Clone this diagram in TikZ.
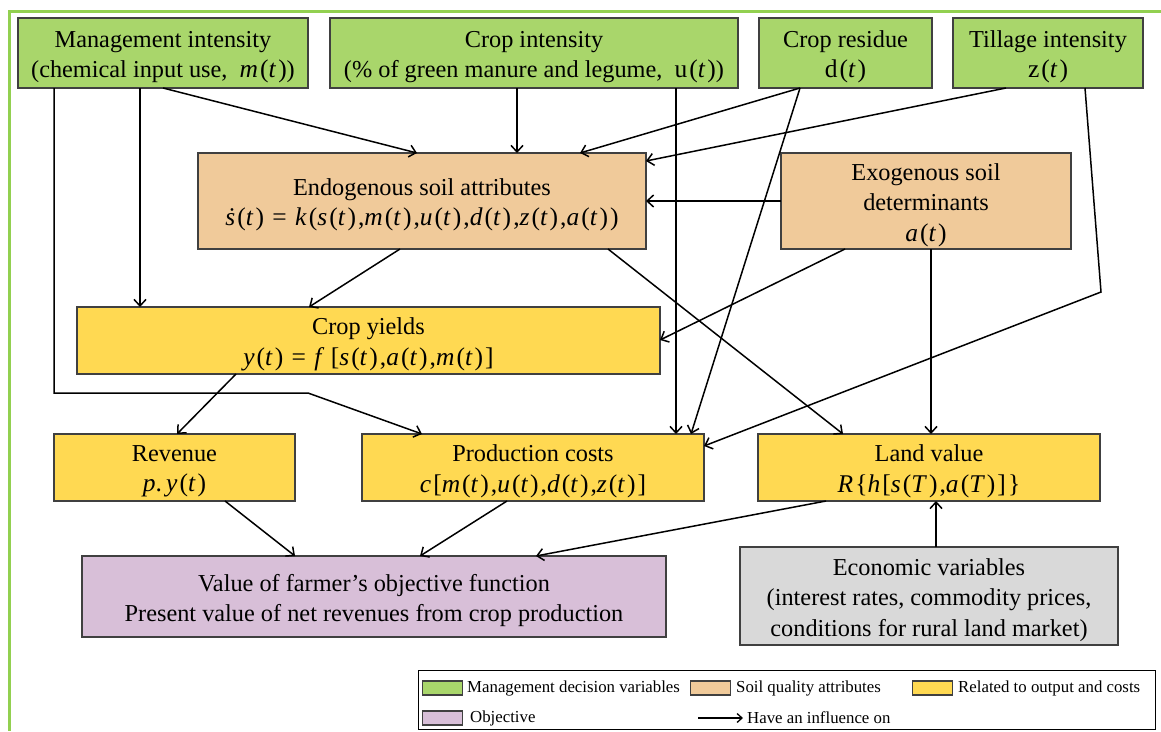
\documentclass[tikz,border=0pt]{standalone}
\usepackage{fontspec}
\setmainfont{LiberationSerif}[Extension=.ttf,UprightFont=*-Regular,ItalicFont=*-Italic,BoldFont=*-Bold,BoldItalicFont=*-BoldItalic]
\usetikzlibrary{arrows.meta,calc}
\definecolor{frameg}{RGB}{146,208,80}
\definecolor{boxg}{RGB}{169,214,107}
\definecolor{boxo}{RGB}{240,202,154}
\definecolor{boxy}{RGB}{255,217,82}
\definecolor{boxp}{RGB}{216,191,216}
\definecolor{boxgr}{RGB}{217,217,217}
\definecolor{edge}{RGB}{64,64,64}
\newcommand\vi[1]{\textit{#1}}
\newcommand\mth[1]{{\fontsize{25.5}{30.5}\selectfont\addfontfeature{LetterSpace=8}#1}}
\begin{document}
\begin{tikzpicture}[x=1pt,y=-1pt,
 bx/.style={draw=edge,line width=1.3pt,inner sep=0pt,outer sep=0pt,anchor=north west},
 bt/.style={inner sep=0pt,align=center,yshift=-4pt,font=\fontsize{24.3}{30.5}\selectfont},
 arr/.style={line width=1.5pt,-{Straight Barb[length=6.5pt,width=12pt]}},
 sw/.style={draw=edge,line width=1.1pt,minimum width=40pt,minimum height=14pt,inner sep=0pt,anchor=west},
 lt/.style={anchor=west,inner sep=0pt,font=\fontsize{16.8}{19}\selectfont}]
\useasboundingbox (0,0) rectangle (1161,731);
\fill[white] (0,0) rectangle (1161,731);
\draw[frameg,line width=3pt] (1161,11) -- (9.5,11) -- (9.5,731);

% nodes
\node[bx,fill=boxg,minimum width=290pt,minimum height=70pt,label={[bt]center:{Management intensity\\(chemical input use,\ \ \mth{\vi{m}(\vi{t})})}}] (mgmt) at (18,18) {};
\node[bx,fill=boxg,minimum width=408pt,minimum height=70pt,label={[bt]center:{Crop intensity\\(\% of green manure and legume,\ \ \mth{u(\vi{t})})}}] (cropint) at (330,18) {};
\node[bx,fill=boxg,minimum width=173pt,minimum height=70pt,label={[bt]center:{Crop residue\\\mth{d(\vi{t})}}}] (resid) at (759,18) {};
\node[bx,fill=boxg,minimum width=190pt,minimum height=70pt,label={[bt]center:{Tillage intensity\\\mth{z(\vi{t})}}}] (till) at (953,18) {};
\node[bx,fill=boxo,minimum width=448pt,minimum height=96pt,label={[bt]center:{Endogenous soil attributes\\\mth{\vi{ṡ}(\vi{t}) = \vi{k}(\vi{s}(\vi{t}),\vi{m}(\vi{t}),\vi{u}(\vi{t}),\vi{d}(\vi{t}),\vi{z}(\vi{t}),\vi{a}(\vi{t}))}}}] (endo) at (198,153) {};
\node[bx,fill=boxo,minimum width=290pt,minimum height=96pt,label={[bt]center:{Exogenous soil\\determinants\\\mth{\vi{a}(\vi{t})}}}] (exo) at (781,153) {};
\node[bx,fill=boxy,minimum width=583pt,minimum height=67pt,label={[bt]center:{Crop yields\\\mth{\vi{y}(\vi{t}) = \vi{f}\,[\vi{s}(\vi{t}),\vi{a}(\vi{t}),\vi{m}(\vi{t})]}}}] (yield) at (77,307) {};
\node[bx,fill=boxy,minimum width=241pt,minimum height=67pt,label={[bt]center:{Revenue\\\mth{\vi{p}.\,\vi{y}(\vi{t})}}}] (rev) at (54,434) {};
\node[bx,fill=boxy,minimum width=342pt,minimum height=67pt,label={[bt]center:{Production costs\\\mth{\vi{c}[\vi{m}(\vi{t}),\vi{u}(\vi{t}),\vi{d}(\vi{t}),\vi{z}(\vi{t})]}}}] (cost) at (362,434) {};
\node[bx,fill=boxy,minimum width=342pt,minimum height=67pt,label={[bt]center:{Land value\\\mth{\vi{R}\{\vi{h}[\vi{s}(\vi{T}),\vi{a}(\vi{T})]\}}}}] (land) at (758,434) {};
\node[bx,fill=boxp,minimum width=584pt,minimum height=81pt,label={[bt]center:{Value of farmer’s objective function\\Present value of net revenues from crop production}}] (obj) at (82,556) {};
\node[bx,fill=boxgr,minimum width=378pt,minimum height=98pt,label={[bt]center:{Economic variables\\(interest rates, commodity prices,\\conditions for rural land market)}}] (econ) at (740,547) {};

% connectors
\coordinate (b1) at (54,393);
\coordinate (b2) at (308,393);
\coordinate (b3) at (1101,292);
\draw[arr] ([xshift=36pt]mgmt.south west) -- (b1) -- (b2) -- ([xshift=60pt]cost.north west);
\draw[arr] ([xshift=122pt]mgmt.south west) coordinate (m2) -- (m2 |- yield.north);
\draw[arr] ([xshift=145pt]mgmt.south west) -- ([xshift=219pt]endo.north west);
\draw[arr] ([xshift=187pt]cropint.south west) coordinate (c1) -- (c1 |- endo.north);
\draw[arr] ([xshift=346pt]cropint.south west) coordinate (c2) -- (c2 |- cost.north);
\draw[arr] ([xshift=41pt]resid.south west) -- ([xshift=382pt]endo.north west);
\draw[arr] ([xshift=41pt]resid.south west) -- ([xshift=329pt]cost.north west);
\draw[arr] ([xshift=53pt]till.south west) -- ([yshift=-8pt]endo.north east);
\draw[arr] ([xshift=132pt]till.south west) -- (b3) -- ([yshift=-12pt]cost.north east);
\draw[arr] (exo.west) -- (exo.west -| endo.east);
\draw[arr] ([xshift=64pt]exo.south west) -- ([yshift=-33pt]yield.north east);
\draw[arr] ([xshift=150pt]exo.south west) coordinate (e1) -- (e1 |- land.north);
\draw[arr] ([xshift=202pt]endo.south west) -- ([xshift=232pt]yield.north west);
\draw[arr] ([xshift=410pt]endo.south west) -- ([xshift=85pt]land.north west);
\draw[arr] ([xshift=159pt]yield.south west) -- ([xshift=123pt]rev.north west);
\draw[arr] ([xshift=171pt]rev.south west) -- ([xshift=213pt]obj.north west);
\draw[arr] ([xshift=145pt]cost.south west) -- ([xshift=338pt]obj.north west);
\draw[arr] ([xshift=68pt]land.south west) -- ([xshift=454pt]obj.north west);
\draw[arr] ([xshift=196pt]econ.north west) coordinate (g1) -- (g1 |- land.south);

% legend
\node[draw=black,line width=1pt,minimum width=737pt,minimum height=59pt,inner sep=0pt,anchor=north west] (leg) at (418,670) {};
\node[sw,fill=boxg] (s1) at (422,688) {};
\node[lt] (t1) at (467,688) {Management decision variables};
\node[sw,fill=boxo] (s2) at (690,688) {};
\node[lt] (t2) at (736,688) {Soil quality attributes};
\node[sw,fill=boxy] (s3) at (912,688) {};
\node[lt] (t3) at (958,688) {Related to output and costs};
\node[sw,fill=boxp] (s4) at (422,718) {};
\node[lt] (t4) at (470,718) {Objective};
\coordinate (la) at (698,718);
\node[lt] (t5) at (747,718) {Have an influence on};
\draw[line width=1.3pt,-{Straight Barb[length=5pt,width=9pt]}] (la) -- ([xshift=-4pt]t5.west);
\end{tikzpicture}
\end{document}
